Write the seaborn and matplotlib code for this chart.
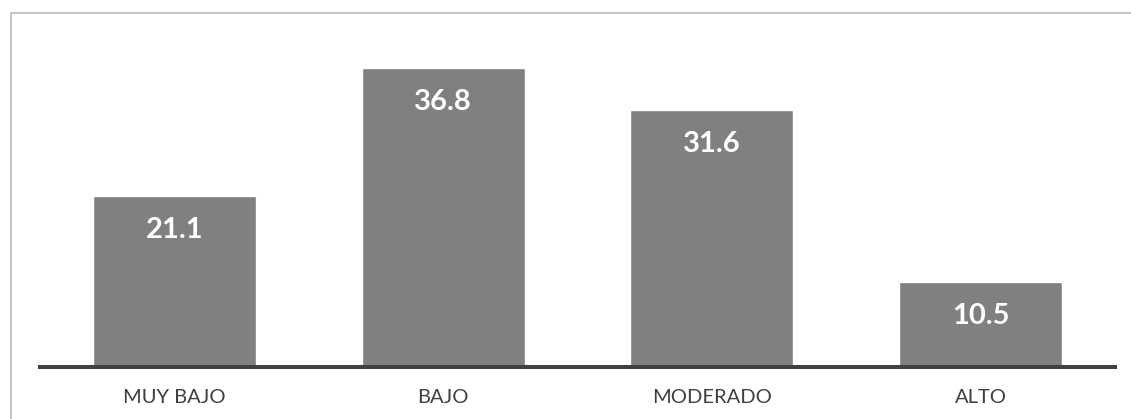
import matplotlib
matplotlib.use("Agg")
import matplotlib.pyplot as plt
from matplotlib.lines import Line2D
import seaborn as sns
import pandas as pd

categories = ["MUY BAJO", "BAJO", "MODERADO", "ALTO"]
values = [21.1, 36.8, 31.6, 10.5]

sns.set_theme(style="white")
plt.rcParams["font.family"] = ["Lato", "DejaVu Sans"]

W, H = 1131, 419
fig = plt.figure(figsize=(W / 100, H / 100), dpi=100)
ax = fig.add_axes([40 / W, (H - 367) / H, (1115 - 40) / W, (367 - 42) / H])

df = pd.DataFrame({"nivel": categories, "pct": values})
sns.barplot(data=df, x="nivel", y="pct", color="#808080", saturation=1,
            width=0.606, ax=ax)

ax.set_xlim(-0.5, 3.5)
ax.set_ylim(0, 40)
ax.set_xlabel("")
ax.set_ylabel("")
ax.set_yticks([])
for side in ("top", "left", "right"):
    ax.spines[side].set_visible(False)
ax.spines["bottom"].set_color("#404040")
ax.spines["bottom"].set_linewidth(2.9)
ax.tick_params(axis="x", length=0, pad=16, labelsize=14.5, labelcolor="#404040")

for patch, v in zip(ax.patches, values):
    x = patch.get_x() + patch.get_width() / 2
    ax.annotate(f"{v:.1f}", xy=(x, patch.get_height()), xytext=(0, -24.5),
                textcoords="offset points", ha="center", va="center",
                color="white", fontsize=21, fontweight="bold")

# light frame around the chart area
fig.add_artist(Line2D([10.5 / W, 1.01], [1 - 13.5 / H, 1 - 13.5 / H],
                      transform=fig.transFigure, color="#c0c0c0", lw=1.3))
fig.add_artist(Line2D([10.5 / W, 10.5 / W], [-0.01, 1 - 13.5 / H],
                      transform=fig.transFigure, color="#c0c0c0", lw=1.3))

fig.savefig("out.png", dpi=100)
